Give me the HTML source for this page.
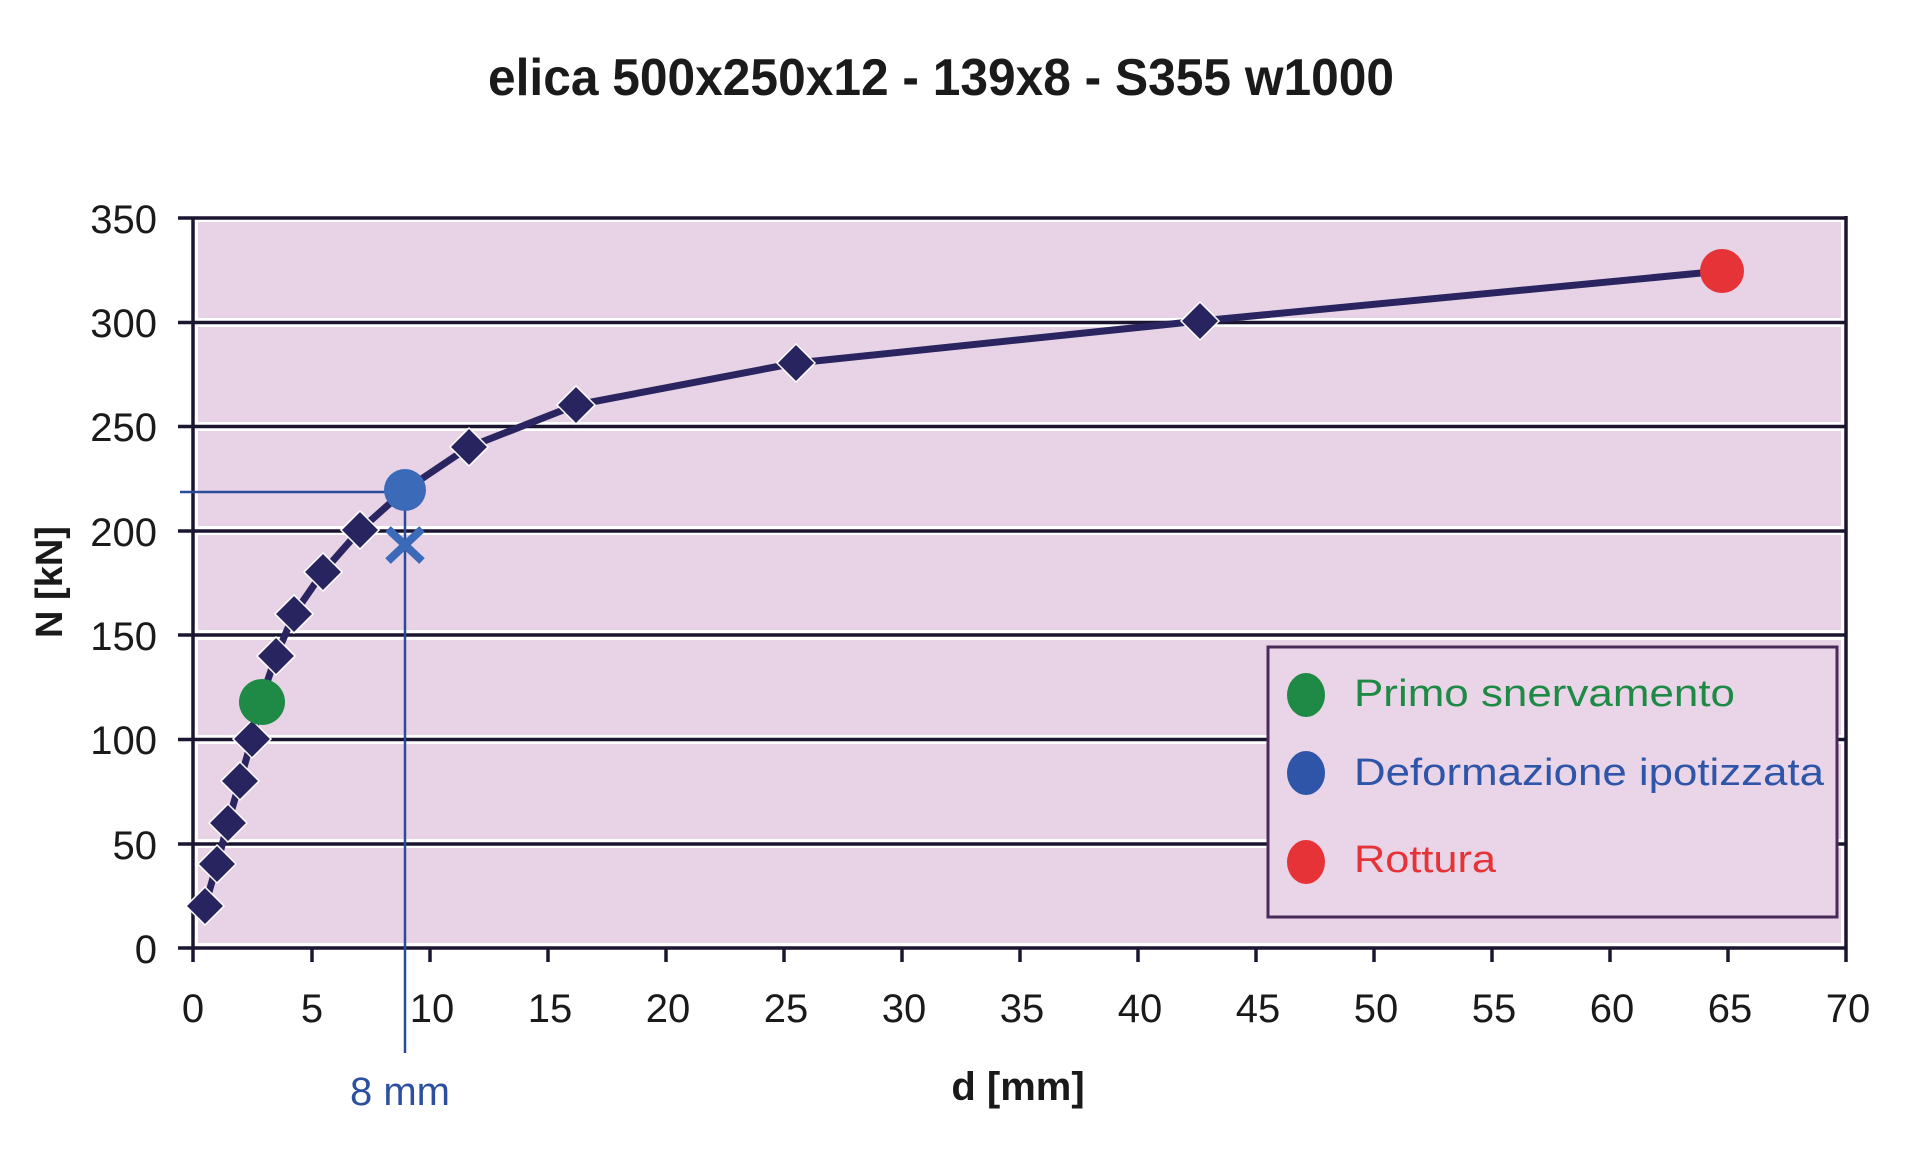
<!DOCTYPE html>
<html><head><meta charset="utf-8"><style>html,body{margin:0;padding:0;background:#fff}svg{display:block}</style></head>
<body>
<svg width="1910" height="1164" viewBox="0 0 1910 1164" xmlns="http://www.w3.org/2000/svg" font-family="Liberation Sans, sans-serif">
<rect width="1910" height="1164" fill="#fff"/>
<text x="941" y="95" font-size="52" font-weight="bold" text-anchor="middle" fill="#1a1a1a" textLength="906" lengthAdjust="spacingAndGlyphs">elica 500x250x12 - 139x8 - S355 w1000</text>
<g fill="#e8d3e6">
<rect x="198" y="222" width="1643" height="96"/>
<rect x="198" y="327" width="1643" height="95"/>
<rect x="198" y="431" width="1643" height="95"/>
<rect x="198" y="535" width="1643" height="95"/>
<rect x="198" y="640" width="1643" height="95"/>
<rect x="198" y="744" width="1643" height="95"/>
<rect x="198" y="848" width="1643" height="95"/>
</g>
<g stroke="#1c1530" stroke-width="3.5">
<line x1="178" y1="218" x2="1846" y2="218"/>
<line x1="178" y1="322.5" x2="1846" y2="322.5"/>
<line x1="178" y1="426.5" x2="1846" y2="426.5"/>
<line x1="178" y1="531" x2="1846" y2="531"/>
<line x1="178" y1="635" x2="1846" y2="635"/>
<line x1="178" y1="739.5" x2="1846" y2="739.5"/>
<line x1="178" y1="844" x2="1846" y2="844"/>
<line x1="178" y1="948" x2="1846" y2="948"/>
<line x1="193" y1="218" x2="193" y2="962"/>
<line x1="1846" y1="216" x2="1846" y2="962"/>
<line x1="312" y1="948" x2="312" y2="962"/>
<line x1="430" y1="948" x2="430" y2="962"/>
<line x1="548" y1="948" x2="548" y2="962"/>
<line x1="666" y1="948" x2="666" y2="962"/>
<line x1="784" y1="948" x2="784" y2="962"/>
<line x1="902" y1="948" x2="902" y2="962"/>
<line x1="1020" y1="948" x2="1020" y2="962"/>
<line x1="1138" y1="948" x2="1138" y2="962"/>
<line x1="1256" y1="948" x2="1256" y2="962"/>
<line x1="1374" y1="948" x2="1374" y2="962"/>
<line x1="1492" y1="948" x2="1492" y2="962"/>
<line x1="1610" y1="948" x2="1610" y2="962"/>
<line x1="1728" y1="948" x2="1728" y2="962"/>
</g>
<g font-size="40" text-anchor="end" fill="#1a1a1a">
<text x="157" y="233">350</text>
<text x="157" y="337">300</text>
<text x="157" y="441">250</text>
<text x="157" y="546">200</text>
<text x="157" y="650">150</text>
<text x="157" y="754">100</text>
<text x="157" y="859">50</text>
<text x="157" y="963">0</text>
</g>
<g font-size="40" text-anchor="middle" fill="#1a1a1a">
<text x="193" y="1022">0</text><text x="312" y="1022">5</text><text x="432" y="1022">10</text><text x="550" y="1022">15</text><text x="668" y="1022">20</text><text x="786" y="1022">25</text><text x="904" y="1022">30</text><text x="1022" y="1022">35</text><text x="1140" y="1022">40</text><text x="1258" y="1022">45</text><text x="1376" y="1022">50</text><text x="1494" y="1022">55</text><text x="1612" y="1022">60</text><text x="1730" y="1022">65</text><text x="1848" y="1022">70</text>
</g>
<text x="1018" y="1100" font-size="40" font-weight="bold" text-anchor="middle" fill="#1a1a1a">d [mm]</text>
<text transform="translate(62,582) rotate(-90)" font-size="38" font-weight="bold" text-anchor="middle" fill="#1a1a1a">N [kN]</text>
<g stroke="#2a4a9a" stroke-width="2.5">
<line x1="180" y1="492" x2="405" y2="492"/>
<line x1="405" y1="492" x2="405" y2="1053"/>
</g>
<text x="400" y="1105" font-size="40" text-anchor="middle" fill="#2d4fa0">8 mm</text>
<polyline fill="none" stroke="#2a2560" stroke-width="7" stroke-linejoin="round" points="205,906 217,864 228,823 240,781 252,739 262,697 276,656 294,614 323,572 360,530 405,490 469,447 576,405 796,363 1200,321 1722,271"/>
<g fill="#28245f" stroke="#fff" stroke-width="1.5">
<path d="M205,887 l19,19 -19,19 -19,-19z"/>
<path d="M217,845 l19,19 -19,19 -19,-19z"/>
<path d="M228,804 l19,19 -19,19 -19,-19z"/>
<path d="M240,762 l19,19 -19,19 -19,-19z"/>
<path d="M252,720 l19,19 -19,19 -19,-19z"/>
<path d="M276,637 l19,19 -19,19 -19,-19z"/>
<path d="M294,595 l19,19 -19,19 -19,-19z"/>
<path d="M323,553 l19,19 -19,19 -19,-19z"/>
<path d="M360,511 l19,19 -19,19 -19,-19z"/>
<path d="M469,428 l19,19 -19,19 -19,-19z"/>
<path d="M576,386 l19,19 -19,19 -19,-19z"/>
<path d="M796,344 l19,19 -19,19 -19,-19z"/>
<path d="M1200,302 l19,19 -19,19 -19,-19z"/>
</g>
<circle cx="262" cy="702" r="23" fill="#1e8a45"/>
<circle cx="405" cy="490" r="21" fill="#3a6ab8"/>
<circle cx="1722" cy="271" r="22" fill="#e53338"/>
<g stroke="#3a6ab8" stroke-width="8">
<line x1="388" y1="529" x2="422" y2="561"/>
<line x1="422" y1="529" x2="388" y2="561"/>
</g>
<rect x="1268" y="647" width="569" height="270" fill="#e9d5e7" stroke="#4a2a5a" stroke-width="3"/>
<ellipse cx="1306" cy="695" rx="19" ry="22" fill="#1e8a45"/>
<ellipse cx="1306" cy="773" rx="19" ry="22" fill="#2f55a8"/>
<ellipse cx="1306" cy="862" rx="19" ry="22" fill="#e53338"/>
<g font-size="38">
<text x="1354" y="706" fill="#1e8a45" textLength="381" lengthAdjust="spacingAndGlyphs">Primo snervamento</text>
<text x="1354" y="785" fill="#2f55a8" textLength="470" lengthAdjust="spacingAndGlyphs">Deformazione ipotizzata</text>
<text x="1354" y="872" fill="#e53338" textLength="142" lengthAdjust="spacingAndGlyphs">Rottura</text>
</g>
</svg>
</body></html>
